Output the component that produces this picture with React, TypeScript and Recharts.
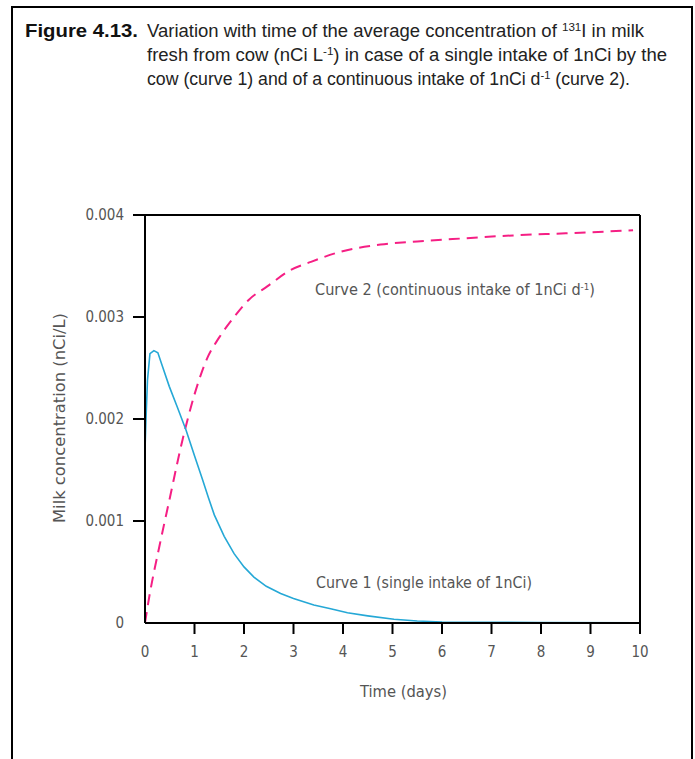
import React from 'react';
import { LineChart, Line, XAxis, YAxis, ReferenceLine } from 'recharts';

// Curve 1: single intake of 1 nCi
const curve1Time = [0, 0, 0.02, 0.05, 0.1, 0.18, 0.26, 0.35, 0.49, 0.65, 0.83, 1.0, 1.16, 1.28, 1.4, 1.6, 1.8, 2.0, 2.2, 2.45, 2.74, 3.0, 3.41, 3.75, 4.09, 4.5, 5.03, 5.5, 6.0, 8.0, 10.0];
const curve1Value = [0.0002, 0.0017, 0.002, 0.00238, 0.00264, 0.00267, 0.00265, 0.00252, 0.00232, 0.00212, 0.00189, 0.00164, 0.00141, 0.00123, 0.00106, 0.00085, 0.00068, 0.00055, 0.00045, 0.00036, 0.00029, 0.00024, 0.000176, 0.00014, 0.0001, 0.00007, 0.000037, 0.00002, 0.00001, 0.000005, 0.000003];

// Curve 2: continuous intake of 1 nCi per day
const curve2Time = [0, 0.087, 0.29, 0.49, 0.76, 1.0, 1.26, 1.5, 1.8, 2.1, 2.47, 2.94, 3.35, 3.95, 4.76, 5.5, 6.1, 7.44, 8.5, 9.86];
const curve2Value = [0, 0.00026, 0.00075, 0.0012, 0.0018, 0.00224, 0.0026, 0.0028, 0.003, 0.00317, 0.0033, 0.00346, 0.00354, 0.00364, 0.00371, 0.00374, 0.00376, 0.0038, 0.00382, 0.00385];

const xTicks = [0, 1, 2, 3, 4, 5, 6, 7, 8, 9, 10];
const yTicks = [0, 0.001, 0.002, 0.003, 0.004];
const yTickLabels = ['0', '0.001', '0.002', '0.003', '0.004'];

const curve1 = curve1Time.map((t, i) => ({ t, v: curve1Value[i] }));
const curve2 = curve2Time.map((t, i) => ({ t, v: curve2Value[i] }));

const axisFont = "'Liberation Sans Narrow', 'DejaVu Sans Condensed', 'Liberation Sans', sans-serif";
const titleFont = "'Liberation Sans', Arial, sans-serif";
const grey = '#555';

const XTick = (props: any) => {
  const { x, y, payload } = props;
  return (
    <g>
      {payload.value !== 0 && (
        <line x1={x} y1={y} x2={x} y2={y + 11} stroke="#000" strokeWidth={2} />
      )}
      <text x={x} y={y + 29} textAnchor="middle" dominantBaseline="central" fontFamily={axisFont} fontSize={15} fill={grey}>
        {payload.value}
      </text>
    </g>
  );
};

const YTick = (props: any) => {
  const { x, y, payload } = props;
  const idx = yTicks.indexOf(payload.value);
  return (
    <g>
      {payload.value !== 0 && (
        <line x1={x - 12} y1={y} x2={x} y2={y} stroke="#000" strokeWidth={2} />
      )}
      <text x={x - 21} y={y} textAnchor="end" dominantBaseline="central" fontFamily={axisFont} fontSize={15} fill={grey}>
        {idx >= 0 ? yTickLabels[idx] : payload.value}
      </text>
    </g>
  );
};

export default function App() {
  return (
    <div style={{ position: 'absolute', left: 0, top: 0, width: 695, height: 759, overflow: 'hidden', background: '#fff' }}>
      <div style={{ position: 'absolute', left: 11, top: 6, width: 678, height: 800, border: '2px solid #000' }} />
      <div style={{ position: 'absolute', left: 0, top: 0 }}>
        <LineChart width={695} height={759} margin={{ top: 215, right: 55, bottom: 106, left: 115 }}>
          <XAxis
            type="number"
            dataKey="t"
            domain={[0, 10]}
            ticks={xTicks}
            interval={0}
            allowDataOverflow
            height={30}
            tickSize={0}
            tickMargin={0}
            tickLine={false}
            axisLine={{ stroke: '#000', strokeWidth: 2 }}
            tick={<XTick />}
          />
          <YAxis
            type="number"
            dataKey="v"
            domain={[0, 0.004]}
            ticks={yTicks}
            interval={0}
            allowDataOverflow
            width={30}
            tickSize={0}
            tickMargin={0}
            tickLine={false}
            axisLine={{ stroke: '#000', strokeWidth: 2 }}
            tick={<YTick />}
          />
          <ReferenceLine y={0.004} stroke="#000" strokeWidth={2} />
          <ReferenceLine x={10} stroke="#000" strokeWidth={2} />
          <Line data={curve2} dataKey="v" type="monotone" stroke="#f51f84" strokeWidth={2} strokeDasharray="11 7" dot={false} isAnimationActive={false} />
          <Line data={curve1} dataKey="v" type="linear" stroke="#25a8d6" strokeWidth={1.6} dot={false} isAnimationActive={false} />
        </LineChart>
      </div>
      <svg width={695} height={759} style={{ position: 'absolute', left: 0, top: 0, pointerEvents: 'none' }}>
        <text x={25} y={37} fontFamily={titleFont} fontWeight="bold" fontSize={18} fill="#111" textLength={113} lengthAdjust="spacingAndGlyphs">Figure 4.13.</text>
        <text x={147} y={37} fontFamily={titleFont} fontSize={17.5} fill="#222" textLength={497} lengthAdjust="spacingAndGlyphs">
          Variation with time of the average concentration of <tspan fontSize={11} dy={-6}>131</tspan><tspan dy={6}>I in milk</tspan>
        </text>
        <text x={147} y={61} fontFamily={titleFont} fontSize={17.5} fill="#222" textLength={520} lengthAdjust="spacingAndGlyphs">
          fresh from cow (nCi L<tspan fontSize={11} dy={-6}>-1</tspan><tspan dy={6}>) in case of a single intake of 1nCi by the</tspan>
        </text>
        <text x={147} y={85} fontFamily={titleFont} fontSize={17.5} fill="#222" textLength={483} lengthAdjust="spacingAndGlyphs">
          cow (curve 1) and of a continuous intake of 1nCi d<tspan fontSize={11} dy={-6}>-1</tspan><tspan dy={6}> (curve 2).</tspan>
        </text>
        <text x={315} y={295} fontFamily={axisFont} fontSize={15} fill={grey} textLength={280} lengthAdjust="spacingAndGlyphs">
          Curve 2 (continuous intake of 1nCi d<tspan fontSize={9} dy={-5}>-1</tspan><tspan dy={5}>)</tspan>
        </text>
        <text x={316} y={588} fontFamily={axisFont} fontSize={15} fill={grey} textLength={216} lengthAdjust="spacingAndGlyphs">
          Curve 1 (single intake of 1nCi)
        </text>
        <text x={360} y={697} fontFamily={axisFont} fontSize={15} fill={grey} textLength={87} lengthAdjust="spacingAndGlyphs">
          Time  (days)
        </text>
        <text x={0} y={0} transform="translate(65, 523) rotate(-90)" fontFamily={axisFont} fontSize={15} fill={grey} textLength={210} lengthAdjust="spacingAndGlyphs">
          Milk concentration (nCi/L)
        </text>
      </svg>
    </div>
  );
}
